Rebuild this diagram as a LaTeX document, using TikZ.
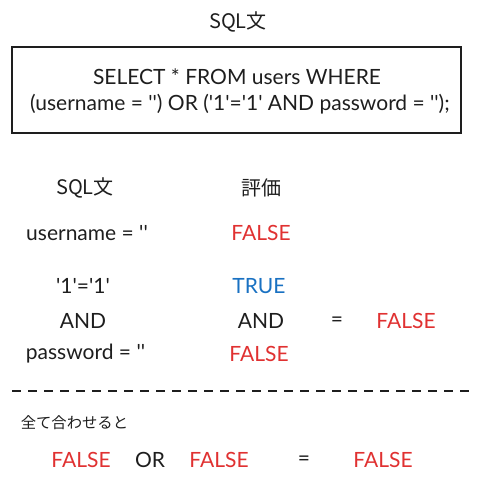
\documentclass[tikz,border=0pt]{standalone}
\usepackage{fontspec}
\setmainfont{Lato}[Ligatures=TeXOff]
\newfontfamily\jpfont{Noto Sans CJK JP}
\usetikzlibrary{positioning}
\definecolor{ink}{HTML}{1E1E1E}
\definecolor{inkred}{HTML}{E03131}
\definecolor{inkblue}{HTML}{1971C2}
\tikzset{%
  % Specifications for style of nodes:
            txt/.style = {text=ink, inner sep=0pt,
                            font=\fontsize{15.75}{19}\selectfont},
            jtxt/.style = {txt, font=\fontsize{15}{19}\selectfont\jpfont},
            smalltxt/.style = {txt, font=\fontsize{11.5}{14}\selectfont\jpfont},
            falsev/.style = {txt, text=inkred},
            truev/.style = {txt, text=inkblue},
            sqlbox/.style = {draw=ink, line width=1.5pt, inner sep=0pt,
                            minimum width=336.75pt, minimum height=64.5pt,
                            align=center}
}

\begin{document}
\begin{tikzpicture}[x=0.75pt, y=-0.75pt]
                \useasboundingbox (0,0) rectangle (478,483);

                \node[jtxt] (title) at (238,22) {SQL文};
                \node[sqlbox] (query) at (236.5,90) {};
                \node[txt] (q1) at (237,77) {SELECT * FROM users WHERE};
                \node[txt] (q2) at (240,104) {(username = '') OR ('1'='1' AND password = '');};

                \node[jtxt] (hsql) at (85,188) {SQL文};
                \node[jtxt] (heval) at (261,188) {評価};

                \node[txt] (user) at (87,233) {username = ''};
                \node[falsev] (userv) at (261,233) {FALSE};

                \node[txt] (one) at (83,286) {'1'='1'};
                \node[truev] (onev) at (259,286) {TRUE};
                \node[txt] (and1) at (83,321) {AND};
                \node[txt] (and2) at (261,321) {AND};
                \node[txt] (eq1) at (337,322) {=};
                \node[falsev] (andv) at (406,321) {FALSE};
                \node[txt] (pass) at (85.5,354) {password = ''};
                \node[falsev] (passv) at (259,354) {FALSE};

                \coordinate (sepl) at (12,391);
                \coordinate (sepr) at (470,391);
                \draw[ink, line width=1.5pt, dash pattern=on 7pt off 5pt] (sepl) -- (sepr);

                \node[smalltxt] (all) at (74.5,423) {全て合わせると};

                \node[falsev] (f1) at (81,460) {FALSE};
                \node[txt] (or) at (150,460) {OR};
                \node[falsev] (f2) at (219,460) {FALSE};
                \node[txt] (eq2) at (304,461) {=};
                \node[falsev] (f3) at (383,460) {FALSE};

            \end{tikzpicture}
\end{document}
